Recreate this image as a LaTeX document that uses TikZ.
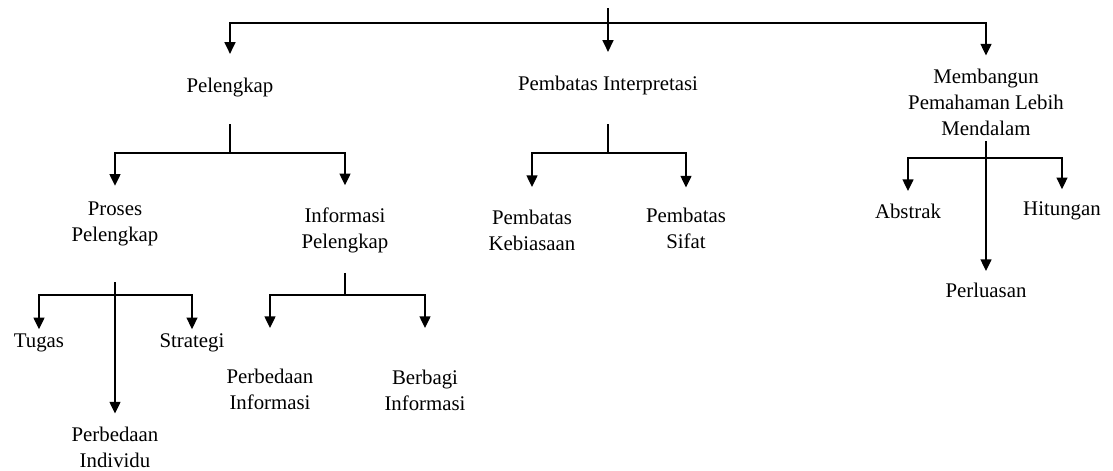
\documentclass[tikz,border=0pt]{standalone}
\usepackage{fontspec}
\setmainfont{Liberation Serif}
\usetikzlibrary{arrows.meta}

\begin{document}
\begin{tikzpicture}
  [x=0.6pt,y=-0.6pt,line width=0.8pt,
   every node/.style={align=center,inner sep=0pt,font=\fontsize{12.5}{15.6}\selectfont},
   arr/.style={-{Triangle[width=6.6pt,length=7pt]}}]
  \useasboundingbox (0,0) rectangle (1113,470);

  \node (pel) at (230,88) {Pelengkap};
  \node (pint) at (608,85) {Pembatas Interpretasi};
  \node (mem) at (986,102.5) {Membangun\\Pemahaman Lebih\\Mendalam};

  \node (pro) at (115,223.5) {Proses\\Pelengkap};
  \node (inf) at (345,230.5) {Informasi\\Pelengkap};
  \node (kebi) at (532,230) {Pembatas\\Kebiasaan};
  \node (sif) at (686,228.5) {Pembatas\\Sifat};

  \node (tug) at (39,343) {Tugas};
  \node (str) at (192,343) {Strategi};
  \node (ind) at (115,447.5) {Perbedaan\\Individu};
  \node (pinf) at (270,389) {Perbedaan\\Informasi};
  \node (ber) at (425,390) {Berbagi\\Informasi};

  \node (abs) at (908,211) {Abstrak};
  \node (hit) at (1062,211) {Hitungan};
  \node (per) at (986,290) {Perluasan};

  \coordinate (top) at (608,8);
  \coordinate (topJ) at (608,23);
  \coordinate (pelJ) at (230,153);
  \coordinate (pintJ) at (608,153);
  \coordinate (memJ) at (986,158);
  \coordinate (proJ) at (115,295);
  \coordinate (infJ) at (345,295);

  % stems down to the bus lines
  \foreach \from/\to/\gap in {top/topJ/0, pel/pelJ/15.6, pint/pintJ/17.4, inf/infJ/11.4}
    \draw[shorten <=\gap pt] (\from) -- (\to);

  % branches with a corner
  \foreach \from/\to/\gap in {topJ/pel/14.4, topJ/mem/7.8, pelJ/pro/9, pelJ/inf/13.2,
      pintJ/kebi/13.2, pintJ/sif/12, proJ/tug/2.4, proJ/str/2.4,
      infJ/pinf/24, infJ/ber/24.6, memJ/abs/7.2, memJ/hit/7.2}
    \draw[arr,shorten >=\gap pt] (\from) -| (\to);

  % straight branches
  \foreach \from/\to/\a/\b in {topJ/pint/0/13.8, pro/ind/21.6/7.8, mem/per/3/6.6}
    \draw[arr,shorten <=\a pt,shorten >=\b pt] (\from) -- (\to);

\end{tikzpicture}
\end{document}
